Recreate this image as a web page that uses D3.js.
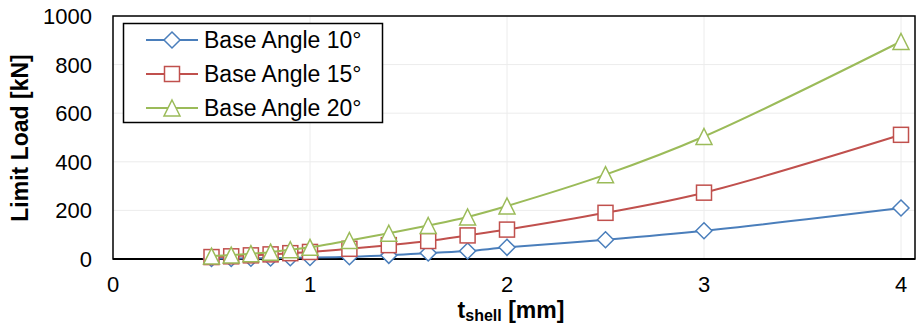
<!DOCTYPE html>
<html>
<head>
<meta charset="utf-8">
<script src="https://cdn.jsdelivr.net/npm/d3@7"></script>
<style>
  body { margin: 0; background: #fff; }
  svg { display: block; font-family: Arial, "Liberation Sans", sans-serif; }
</style>
</head>
<body>
<svg id="chart" width="916" height="332"></svg>
<script>
// thickness values (mm)
const thickness = [0.5, 0.6, 0.7, 0.8, 0.9, 1.0, 1.2, 1.4, 1.6, 1.8, 2.0, 2.5, 3.0, 4.0];
// limit load (kN) per base angle
const angle10 = [2, 2, 3, 4, 5, 6, 9, 15, 25, 33, 48, 79, 116, 210];
const angle15 = [8, 11, 15, 19, 24, 29, 42, 57, 74, 97, 121, 190, 273, 511];
const angle20 = [12, 16, 22, 28, 38, 48, 76, 106, 138, 173, 218, 347, 504, 895];
const seriesNames = ["Base Angle 10°", "Base Angle 15°", "Base Angle 20°"];
const xTicks = [0, 1, 2, 3, 4];
const yTicks = [0, 200, 400, 600, 800, 1000];

const colors = ["#4a7ebb", "#c0504d", "#9bbb59"];
const shapes = ["diamond", "square", "triangle"];

let svg = d3.select("#chart");
let plotLeft = 113, plotRight = 915, plotTop = 16, plotBottom = 259;

let x = d3.scaleLinear().domain([0, 4]).range([plotLeft, 901]);
let y = d3.scaleLinear().domain([0, 1000]).range([plotBottom, plotTop]);

// grid
svg.append("g").selectAll("line")
  .data(yTicks.slice(1))
  .enter().append("line")
    .attr("x1", plotLeft).attr("x2", plotRight)
    .attr("y1", d => y(d)).attr("y2", d => y(d))
    .attr("stroke", "#ececec").attr("stroke-width", 1);
svg.append("g").selectAll("line")
  .data(xTicks.slice(1))
  .enter().append("line")
    .attr("x1", d => x(d)).attr("x2", d => x(d))
    .attr("y1", plotTop).attr("y2", plotBottom)
    .attr("stroke", "#ececec").attr("stroke-width", 1);

// frame
svg.append("rect")
  .attr("x", plotLeft).attr("y", plotTop)
  .attr("width", plotRight - plotLeft).attr("height", plotBottom - plotTop)
  .attr("fill", "none").attr("stroke", "#000").attr("stroke-width", 1.5);
svg.append("line")
  .attr("x1", plotLeft).attr("x2", plotRight)
  .attr("y1", plotBottom).attr("y2", plotBottom)
  .attr("stroke", "#000").attr("stroke-width", 2.2);

// tick labels
svg.append("g").selectAll("text")
  .data(yTicks)
  .enter().append("text")
    .attr("x", 92).attr("y", d => y(d))
    .attr("dy", "0.36em")
    .attr("text-anchor", "end")
    .attr("font-size", 22)
    .text(d => d);
svg.append("g").selectAll("text")
  .data(xTicks)
  .enter().append("text")
    .attr("x", d => x(d)).attr("y", 292)
    .attr("text-anchor", "middle")
    .attr("font-size", 22)
    .text(d => d);

// axis titles
svg.append("text")
  .attr("transform", "translate(28,138) rotate(-90)")
  .attr("text-anchor", "middle")
  .attr("font-size", 23).attr("font-weight", "bold")
  .text("Limit Load [kN]");
let xt = svg.append("text")
  .attr("x", 511).attr("y", 318)
  .attr("text-anchor", "middle")
  .attr("font-size", 23).attr("font-weight", "bold");
xt.append("tspan").text("t");
xt.append("tspan").attr("font-size", 16).attr("dy", 3).text("shell");
xt.append("tspan").attr("dy", -3).text(" [mm]");

function marker(g, shape, color, cx, cy) {
  if (shape == "diamond") {
    g.append("path")
      .attr("d", `M${cx},${cy - 8}L${cx + 8},${cy}L${cx},${cy + 8}L${cx - 8},${cy}Z`)
      .attr("fill", "#fff").attr("stroke", color).attr("stroke-width", 1.5);
  } else if (shape == "square") {
    g.append("rect")
      .attr("x", cx - 7.5).attr("y", cy - 7.5)
      .attr("width", 15).attr("height", 15)
      .attr("fill", "#fff").attr("stroke", color).attr("stroke-width", 1.5);
  } else {
    g.append("path")
      .attr("d", `M${cx},${cy - 8}L${cx + 8},${cy + 8}L${cx - 8},${cy + 8}Z`)
      .attr("fill", "#fff").attr("stroke", color).attr("stroke-width", 1.5);
  }
}

let line = d3.line()
  .x(d => x(d[0]))
  .y(d => y(d[1]))
  .curve(d3.curveCatmullRom.alpha(0.5));

[angle10, angle15, angle20].forEach((vals, i) => {
  let pts = thickness.map((t, j) => [t, vals[j]]);
  let g = svg.append("g");
  g.append("path")
    .datum(pts)
    .attr("d", line)
    .attr("fill", "none")
    .attr("stroke", colors[i])
    .attr("stroke-width", 2);
  pts.forEach(p => marker(g, shapes[i], colors[i], x(p[0]), y(p[1])));
});

// legend
let lg = svg.append("g");
lg.append("rect")
  .attr("x", 123.5).attr("y", 23.5)
  .attr("width", 259).attr("height", 99)
  .attr("fill", "#fff").attr("stroke", "#000").attr("stroke-width", 1.5);
seriesNames.forEach((name, i) => {
  let cy = 40 + i * 34;
  lg.append("line")
    .attr("x1", 146).attr("x2", 198)
    .attr("y1", cy).attr("y2", cy)
    .attr("stroke", colors[i]).attr("stroke-width", 2);
  marker(lg, shapes[i], colors[i], 172, cy);
  lg.append("text")
    .attr("x", 204).attr("y", cy)
    .attr("dy", "0.36em")
    .attr("font-size", 23)
    .text(name);
});
</script>
</body>
</html>
